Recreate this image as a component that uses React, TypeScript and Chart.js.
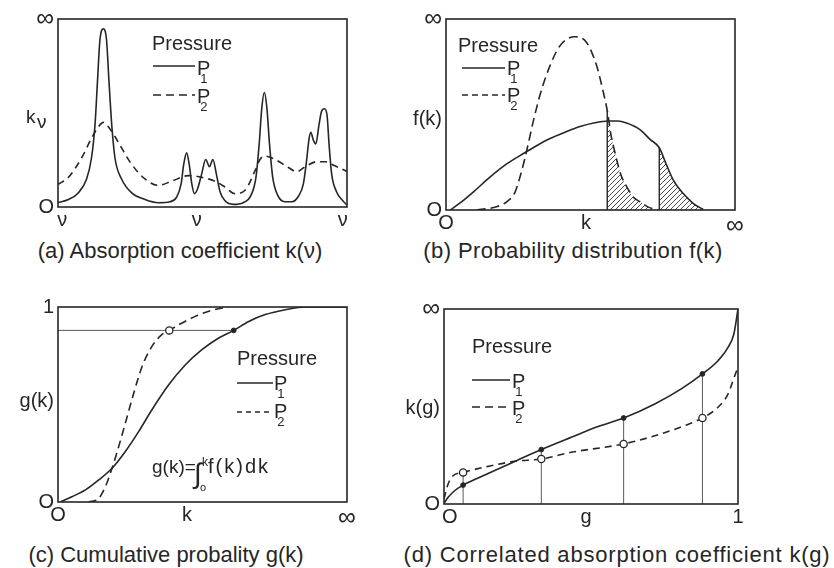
import React, { useEffect, useRef } from 'react';
import { Chart, registerables } from 'chart.js';

Chart.register(...registerables);

type Pt = [number, number];

// ---------- (a) Absorption coefficient k(nu) ----------
const aP1: Pt[] = [
  [0, 2.3], [3.6, 4.0], [7.0, 7.5], [9.9, 14.9], [11.6, 26.2], [12.8, 43.6], [13.7, 67.9], [14.5, 88.7],
  [15.7, 94.8], [16.8, 88.7], [17.6, 67.9], [18.6, 43.6], [19.7, 26.2], [22.0, 14.9], [25.5, 7.5],
  [30.1, 4.0], [34.7, 2.3], [38.8, 2.8], [41.1, 5.4], [42.6, 12.3], [43.5, 22.7], [44.5, 28.8],
  [45.4, 22.7], [46.3, 12.3], [47.2, 7.1], [48.3, 9.7], [49.7, 17.5], [51.1, 25.3], [52.4, 21.4],
  [53.6, 25.3], [54.8, 17.5], [56.1, 8.0], [57.8, 3.3], [60.7, 1.4], [64.1, 2.3], [66.8, 6.3],
  [68.5, 15.8], [69.6, 33.2], [70.5, 52.3], [71.4, 60.9], [72.3, 52.3], [73.2, 33.2], [74.3, 15.8],
  [76.0, 6.3], [78.5, 2.8], [80.9, 2.8], [83.2, 5.7], [84.9, 12.3], [86.0, 24.5], [86.9, 36.6],
  [87.5, 39.8], [88.3, 35.8], [89.2, 33.5], [90.3, 43.6], [91.2, 50.9], [92.2, 52.3], [93.1, 48.8],
  [93.8, 33.2], [94.7, 17.5], [96.4, 8.0], [98.4, 3.6], [100, 1.0],
];
const aP2: Pt[] = [
  [0, 12.0], [3.6, 15.8], [8.2, 26.2], [11.6, 36.6], [14.0, 42.7], [15.7, 45.0], [17.4, 42.7],
  [19.7, 37.5], [22.0, 31.4], [25.5, 22.7], [30.1, 14.9], [34.7, 11.5], [39.3, 13.7], [45.1, 16.7],
  [49.7, 15.8], [54.3, 13.7], [57.8, 10.6], [61.2, 7.1], [64.7, 8.9], [68.2, 19.3], [69.9, 25.3],
  [71.6, 27.1], [75.1, 25.3], [79.7, 21.0], [82.6, 18.8], [85.5, 21.4], [89.5, 24.1], [92.4, 24.1],
  [95.8, 21.9], [100, 18.9],
];
const aXTicks = [1.5, 48, 98.5];
const aXLabels = ['ν', 'ν', 'ν'];
const aYTicks = [0, 100];
const aYLabels = ['O', '∞'];

// ---------- (b) Probability distribution f(k) ----------
const bP1: Pt[] = [
  [1.5, 0], [5.0, 3.8], [9.5, 9.5], [15.2, 17.2], [21.0, 24.1], [26.8, 29.6], [31.5, 33.8],
  [36.0, 37.4], [41.0, 40.6], [46.4, 43.7], [51.5, 45.7], [56.2, 46.6], [59.5, 46.6], [62.5, 45.5],
  [67.1, 42.1], [70.6, 37.0], [73.8, 32.6], [76.4, 23.2], [78.7, 15.5], [82.1, 8.6], [85.6, 3.4],
  [89.0, 0.3],
];
const bP2: Pt[] = [
  [10.6, 0], [17.5, 1.7], [21.0, 4.3], [23.9, 9.4], [26.2, 20.6], [27.9, 30.9], [30.2, 46.4],
  [32.5, 60.1], [36.0, 75.6], [39.4, 85.9], [44.6, 90.7], [48.7, 87.6], [52.1, 75.6], [54.4, 61.9],
  [55.8, 52.0], [57.0, 40.0], [58.6, 29.2], [60.5, 18.5], [62.6, 12.0], [65.0, 6.5], [67.2, 4.3],
  [70.0, 1.5], [73.5, 0],
];
const bHatchP2From = 55.8;
const bHatchP1From = 73.8;
const bXTicks = [0, 48.4, 100];
const bXLabels = ['O', 'k', '∞'];
const bYTicks = [0, 47.4, 100];
const bYLabels = ['O', 'f(k)', '∞'];

// ---------- (c) Cumulative probability g(k) ----------
const cP1: Pt[] = [
  [0.8, 0], [4.8, 0.027], [9.5, 0.062], [14.1, 0.113], [18.7, 0.173], [23.3, 0.259], [27.9, 0.361],
  [32.5, 0.473], [38.3, 0.601], [44.1, 0.704], [49.8, 0.781], [55.6, 0.841], [60.8, 0.88],
  [66.0, 0.926], [71.7, 0.961], [78.7, 0.986], [85.6, 1.0], [100, 1.0],
];
const cP2: Pt[] = [
  [10.6, 0], [14.1, 0.019], [16.4, 0.079], [18.7, 0.173], [21.0, 0.284], [23.3, 0.404],
  [26.2, 0.558], [29.1, 0.695], [32.5, 0.798], [35.9, 0.858], [38.5, 0.88], [41.8, 0.909],
  [47.5, 0.952], [53.3, 0.983], [59.1, 1.0],
];
const cLevel = 0.88;
const cMarkP1: Pt[] = [[60.8, 0.88]];
const cMarkP2: Pt[] = [[38.5, 0.88]];
const cXTicks = [0, 44.6, 100];
const cXLabels = ['O', 'k', '∞'];
const cYTicks = [0, 0.513, 1];
const cYLabels = ['O', 'g(k)', '1'];

// ---------- (d) Correlated absorption coefficient k(g) ----------
const dP1: Pt[] = [
  [0, 0.3], [0.014, 3.4], [0.036, 6.8], [0.065, 9.7], [0.116, 13.3], [0.184, 17.9], [0.252, 22.6],
  [0.331, 27.9], [0.433, 34.2], [0.524, 39.7], [0.611, 44.1], [0.717, 51.3], [0.807, 59.0],
  [0.879, 66.7], [0.932, 73.5], [0.966, 80.3], [0.986, 87.2], [1.0, 100],
];
const dP2: Pt[] = [
  [0, 2.6], [0.014, 10.3], [0.031, 14.5], [0.065, 16.2], [0.150, 19.3], [0.240, 21.9], [0.331, 23.1],
  [0.433, 26.5], [0.611, 30.8], [0.717, 35.0], [0.819, 40.2], [0.879, 44.1], [0.932, 49.6],
  [0.966, 56.4], [0.989, 65.8], [1.0, 70.1],
];
const dG = [0.065, 0.331, 0.611, 0.879];
const dMarkP1 = [9.7, 27.9, 44.1, 66.7];
const dMarkP2 = [16.2, 23.1, 30.8, 44.1];
const dXTicks = [0.02, 0.483, 1];
const dXLabels = ['O', 'g', '1'];
const dYTicks = [0, 49.2, 100];
const dYLabels = ['O', 'k(g)', '∞'];

// ---------- styling ----------
const INK = '#262626';
const THIN = '#5a5a5a';
const FONT = '"Liberation Sans", Arial, sans-serif';

const xy = (pts: Pt[]) => pts.map(([x, y]) => ({ x, y }));

const curve = (pts: Pt[], dash: number[] = []) => ({
  data: xy(pts), borderColor: INK, borderWidth: 1.6, borderDash: dash, pointRadius: 0,
  cubicInterpolationMode: 'monotone', fill: false, order: 5,
});
const thin = (pts: Pt[], color = THIN, width = 1) => ({
  data: xy(pts), borderColor: color, borderWidth: width, pointRadius: 0, tension: 0, fill: false, order: 8,
});
const dots = (pts: Pt[], open: boolean) => ({
  data: xy(pts), showLine: false, pointRadius: open ? 3.6 : 2.4,
  pointBackgroundColor: open ? '#ffffff' : INK, pointBorderColor: INK, pointBorderWidth: open ? 1.3 : 1,
  order: 0,
});

function makeHatch(): CanvasPattern | string {
  const c = document.createElement('canvas');
  c.width = 5; c.height = 5;
  const g = c.getContext('2d');
  if (!g) return '#999';
  g.strokeStyle = '#3a3a3a';
  g.lineWidth = 0.9;
  g.beginPath();
  g.moveTo(0, 5); g.lineTo(5, 0);
  g.moveTo(-1, 1); g.lineTo(1, -1);
  g.moveTo(4, 6); g.lineTo(6, 4);
  g.stroke();
  return g.createPattern(c, 'repeat') || '#999';
}

const framePlugin = {
  id: 'frame',
  afterDraw(chart: any) {
    const { ctx, chartArea: a } = chart;
    ctx.save();
    ctx.strokeStyle = INK;
    ctx.lineWidth = 1.6;
    ctx.strokeRect(a.left, a.top, a.right - a.left, a.bottom - a.top);
    ctx.restore();
  },
};

type Cfg = {
  datasets: any[]; xMax: number; yMax: number;
  xTicks: number[]; xLabels: string[]; yTicks: number[]; yLabels: string[];
  pad: { left: number; right: number; top: number; bottom: number };
  yWidth: number; xHeight: number;
};

function config(o: Cfg): any {
  const fontFor = (labels: string[]) => (ctx: any) => ({
    family: FONT, size: labels[ctx.index] === '∞' ? 25 : 20,
  });
  return {
    type: 'line',
    data: { datasets: o.datasets },
    options: {
      responsive: false, animation: false, devicePixelRatio: 1, events: [],
      layout: { padding: o.pad },
      plugins: { legend: { display: false }, tooltip: { enabled: false }, title: { display: false } },
      scales: {
        x: {
          type: 'linear', min: 0, max: o.xMax,
          grid: { display: false, drawTicks: false }, border: { display: false },
          afterBuildTicks: (s: any) => { s.ticks = o.xTicks.map((v) => ({ value: v })); },
          afterFit: (s: any) => { s.height = o.xHeight; },
          ticks: {
            autoSkip: false, maxRotation: 0, minRotation: 0, padding: 1, color: INK, font: fontFor(o.xLabels),
            callback: (_v: any, i: number) => o.xLabels[i],
          },
        },
        y: {
          type: 'linear', min: 0, max: o.yMax,
          grid: { display: false, drawTicks: false }, border: { display: false },
          afterBuildTicks: (s: any) => { s.ticks = o.yTicks.map((v) => ({ value: v })); },
          afterFit: (s: any) => { s.width = o.yWidth; },
          ticks: {
            autoSkip: false, padding: 4, color: INK, font: fontFor(o.yLabels),
            callback: (_v: any, i: number) => o.yLabels[i],
          },
        },
      },
    },
    plugins: [framePlugin],
  };
}

const buildA = () => config({
  datasets: [curve(aP1), curve(aP2, [7, 5])],
  xMax: 100, yMax: 100, xTicks: aXTicks, xLabels: aXLabels, yTicks: aYTicks, yLabels: aYLabels,
  pad: { left: 13, right: 53, top: 15, bottom: 2 }, yWidth: 45, xHeight: 26,
});

const buildB = () => {
  const hatch = makeHatch();
  const h2 = bP2.filter((p) => p[0] >= bHatchP2From);
  const h1 = bP1.filter((p) => p[0] >= bHatchP1From);
  const area = (pts: Pt[]) => ({
    data: xy(pts), borderWidth: 0, borderColor: 'rgba(0,0,0,0)', backgroundColor: hatch, fill: 'origin',
    pointRadius: 0, cubicInterpolationMode: 'monotone', order: 9,
  });
  return config({
    datasets: [
      curve(bP1), curve(bP2, [9, 5]), area(h2), area(h1),
      thin([[h2[0][0], 0], h2[0]], INK, 1.4), thin([[h1[0][0], 0], h1[0]], INK, 1.4),
    ],
    xMax: 100, yMax: 100, xTicks: bXTicks, xLabels: bXLabels, yTicks: bYTicks, yLabels: bYLabels,
    pad: { left: 1, right: 99, top: 16, bottom: 1 }, yWidth: 45, xHeight: 24,
  });
};

const buildC = () => config({
  datasets: [
    dots(cMarkP1, false), dots(cMarkP2, true), curve(cP1), curve(cP2, [8, 5]),
    thin([[0, cLevel], cMarkP1[0]]),
  ],
  xMax: 100, yMax: 1, xTicks: cXTicks, xLabels: cXLabels, yTicks: cYTicks, yLabels: cYLabels,
  pad: { left: 6, right: 53, top: 27, bottom: 2 }, yWidth: 52, xHeight: 26,
});

const buildD = () => config({
  datasets: [
    dots(dG.map((g, i) => [g, dMarkP1[i]] as Pt), false),
    dots(dG.map((g, i) => [g, dMarkP2[i]] as Pt), true),
    curve(dP1), curve(dP2, [7, 5]),
    ...dG.map((g, i) => thin([[g, 0], [g, Math.max(dMarkP1[i], dMarkP2[i])]])),
  ],
  xMax: 1, yMax: 100, xTicks: dXTicks, xLabels: dXLabels, yTicks: dYTicks, yLabels: dYLabels,
  pad: { left: 0, right: 96, top: 29, bottom: 2 }, yWidth: 44, xHeight: 24,
});

function ChartBox({ x, y, w, h, make }: { x: number; y: number; w: number; h: number; make: () => any }) {
  const ref = useRef<HTMLCanvasElement | null>(null);
  useEffect(() => {
    if (!ref.current) return;
    const chart = new Chart(ref.current, make());
    return () => chart.destroy();
  }, [make]);
  return (
    <canvas ref={ref} width={w} height={h}
      style={{ position: 'absolute', left: x, top: y, width: w, height: h }} />
  );
}

function Txt({ x, y, size, children, center, ls }: { x: number; y: number; size: number; children: React.ReactNode; center?: boolean; ls?: number }) {
  return (
    <div style={{
      position: 'absolute', left: x, top: y - size * 0.8465, fontSize: size, lineHeight: `${size}px`,
      fontFamily: FONT, color: INK, whiteSpace: 'nowrap', letterSpacing: ls ? `${ls}px` : undefined,
      transform: center ? 'translateX(-50%)' : undefined,
    }}>{children}</div>
  );
}

function Seg({ x1, x2, y, dash }: { x1: number; x2: number; y: number; dash?: string }) {
  const w = x2 - x1;
  return (
    <svg width={w} height={4} style={{ position: 'absolute', left: x1, top: y - 2, overflow: 'visible' }}>
      <line x1={0} y1={2} x2={w} y2={2} stroke={INK} strokeWidth={1.5} strokeDasharray={dash} />
    </svg>
  );
}

function PSub({ x, y, n }: { x: number; y: number; n: string }) {
  return (
    <Txt x={x} y={y} size={20}>
      P<span style={{ fontSize: 13, position: 'relative', top: 8, marginLeft: -10 }}>{n}</span>
    </Txt>
  );
}

function LegendBox({ px, pb, x1, x2, y1, y2, tx, b1, b2, dash }: {
  px: number; pb: number; x1: number; x2: number; y1: number; y2: number; tx: number; b1: number; b2: number; dash: string;
}) {
  return (
    <>
      <Txt x={px} y={pb} size={20}>Pressure</Txt>
      <Seg x1={x1} x2={x2} y={y1} />
      <PSub x={tx} y={b1} n="1" />
      <Seg x1={x1} x2={x2} y={y2} dash={dash} />
      <PSub x={tx} y={b2} n="2" />
    </>
  );
}

export default function App() {
  return (
    <div style={{ position: 'absolute', left: 0, top: 0, width: 834, height: 568, background: '#fff', overflow: 'hidden' }}>
      <ChartBox x={0} y={0} w={400} h={235} make={buildA} />
      <ChartBox x={400} y={0} w={434} h={235} make={buildB} />
      <ChartBox x={0} y={280} w={400} h={250} make={buildC} />
      <ChartBox x={400} y={280} w={434} h={250} make={buildD} />

      {/* y title of (a) with subscript */}
      <Txt x={26} y={123} size={19}>k</Txt>
      <Txt x={37} y={128} size={19}>ν</Txt>

      {/* legends */}
      <LegendBox px={152} pb={50} x1={153} x2={195} y1={66} y2={95} tx={197} b1={75} b2={103} dash="8 5" />
      <LegendBox px={458} pb={52} x1={462} x2={505} y1={68} y2={95} tx={507} b1={75} b2={102} dash="6 4" />
      <LegendBox px={237} pb={365} x1={237} x2={273} y1={383} y2={412} tx={274} b1={390} b2={418} dash="5 4" />
      <LegendBox px={472} pb={353} x1={472} x2={510} y1={380} y2={407} tx={512} b1={388} b2={415} dash="8 5" />

      {/* formula in (c) */}
      <Txt x={152} y={473} size={19}>g(k)=</Txt>
      <Txt x={194} y={484} size={28}>∫</Txt>
      <Txt x={202} y={466} size={12}>k</Txt>
      <Txt x={200} y={491} size={11}>o</Txt>
      <Txt x={208} y={473} size={20} ls={2}>f(k)dk</Txt>

      {/* captions */}
      <Txt x={180} y={259} size={22} center>(a) Absorption coefficient k(ν)</Txt>
      <Txt x={573} y={259} size={22} center ls={0.4}>(b) Probability distribution f(k)</Txt>
      <Txt x={166} y={563} size={22} center>(c) Cumulative probality g(k)</Txt>
      <Txt x={617} y={563} size={22} center ls={0.8}>(d) Correlated absorption coefficient k(g)</Txt>
    </div>
  );
}
